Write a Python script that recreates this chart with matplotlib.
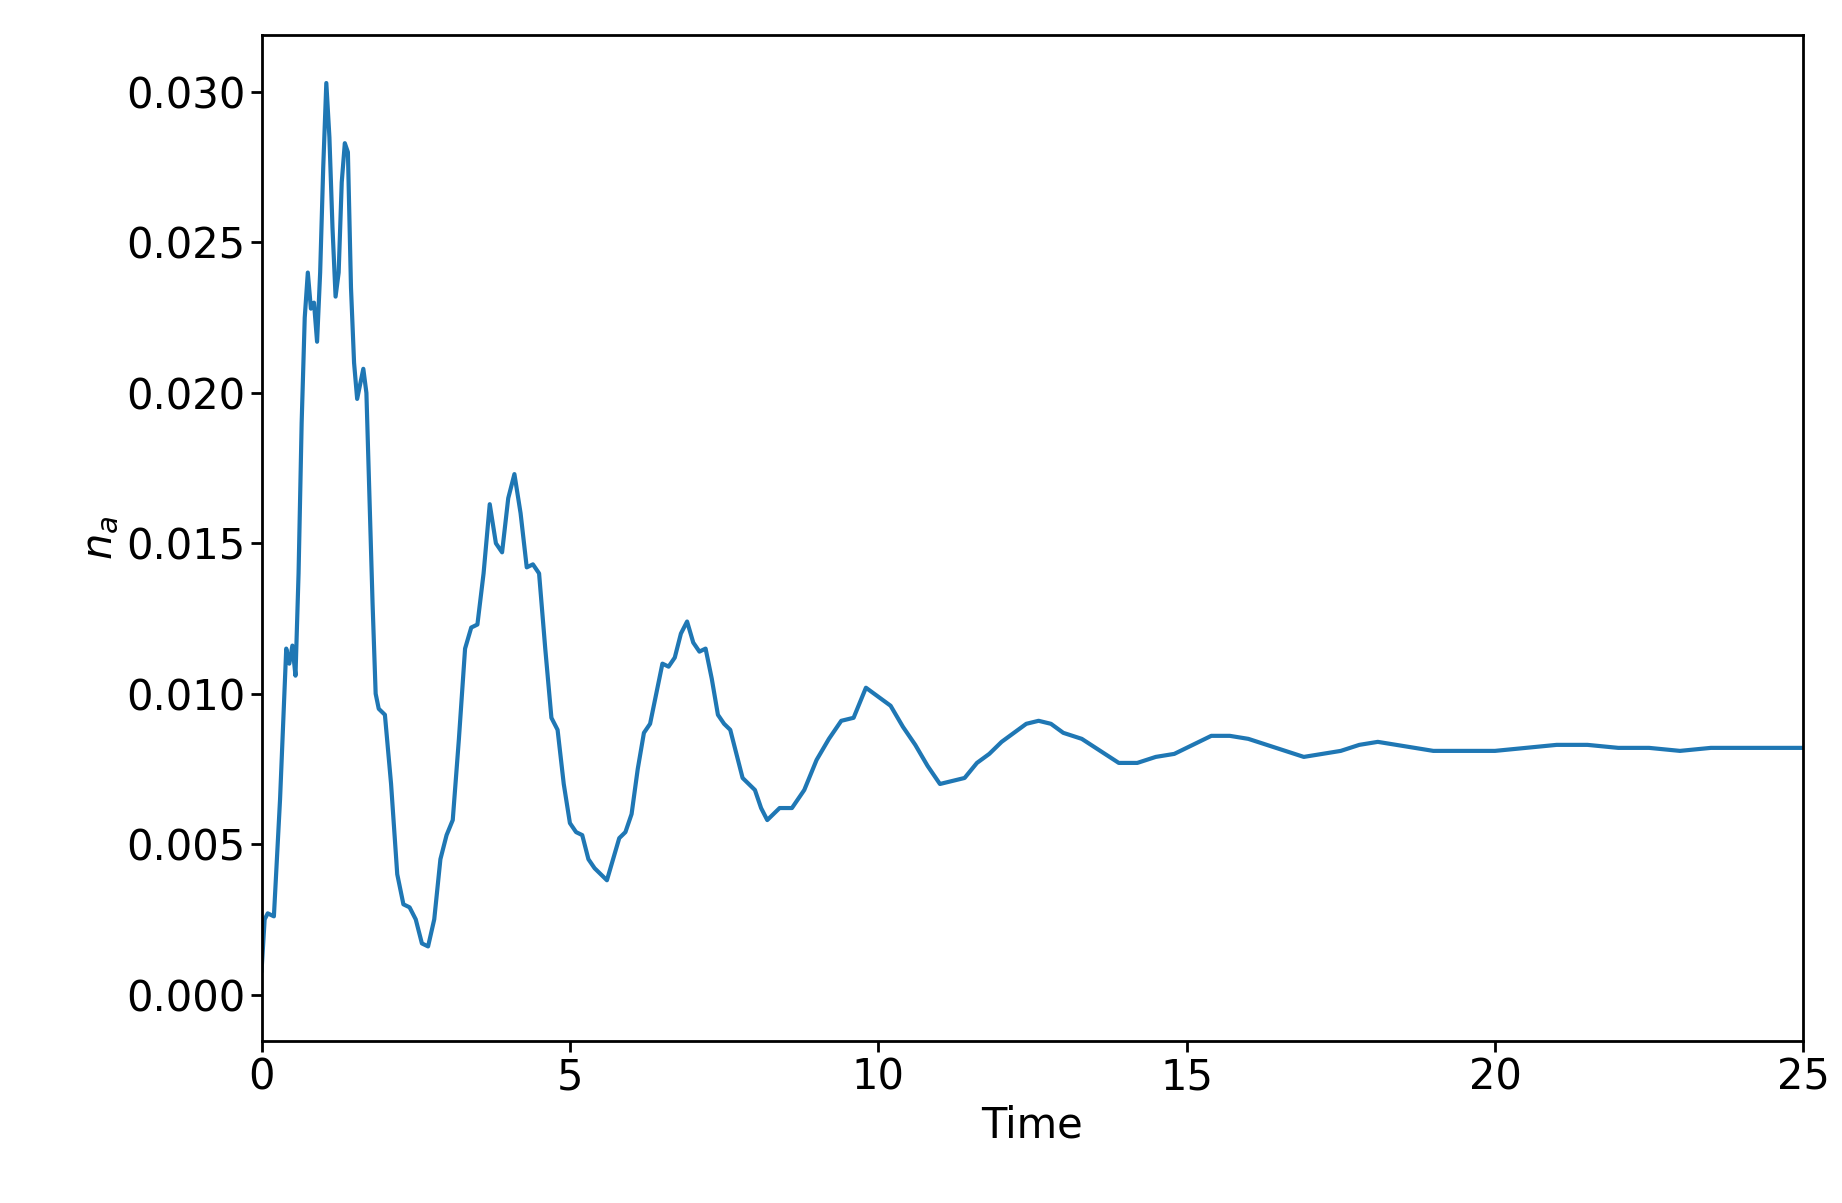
import matplotlib
matplotlib.use("Agg")
import matplotlib.pyplot as plt

t = [0, 0.05, 0.1, 0.2, 0.3, 0.4, 0.45, 0.5, 0.55, 0.6,
     0.65, 0.7, 0.75, 0.8, 0.85, 0.9, 0.95, 1.0, 1.05, 1.1,
     1.15, 1.2, 1.25, 1.3, 1.35, 1.4, 1.45, 1.5, 1.55, 1.6,
     1.65, 1.7, 1.75, 1.8, 1.85, 1.9, 2.0, 2.1, 2.2, 2.3,
     2.4, 2.5, 2.6, 2.7, 2.8, 2.9, 3.0, 3.1, 3.2, 3.3,
     3.4, 3.5, 3.6, 3.7, 3.8, 3.9, 4.0, 4.1, 4.2, 4.3,
     4.4, 4.5, 4.6, 4.7, 4.8, 4.9, 5.0, 5.1, 5.2, 5.3,
     5.4, 5.5, 5.6, 5.7, 5.8, 5.9, 6.0, 6.1, 6.2, 6.3,
     6.4, 6.5, 6.6, 6.7, 6.8, 6.9, 7.0, 7.1, 7.2, 7.3,
     7.4, 7.5, 7.6, 7.7, 7.8, 7.9, 8.0, 8.1, 8.2, 8.3,
     8.4, 8.6, 8.8, 9.0, 9.2, 9.4, 9.6, 9.8, 10.0, 10.2,
     10.4, 10.6, 10.8, 11.0, 11.2, 11.4, 11.6, 11.8, 12.0, 12.2,
     12.4, 12.6, 12.8, 13.0, 13.3, 13.6, 13.9, 14.2, 14.5, 14.8,
     15.1, 15.4, 15.7, 16.0, 16.3, 16.6, 16.9, 17.2, 17.5, 17.8,
     18.1, 18.4, 18.7, 19.0, 19.5, 20.0, 20.5, 21.0, 21.5, 22.0,
     22.5, 23.0, 23.5, 24.0, 24.5, 25.0]
n_a = [0.0008, 0.0025, 0.0027, 0.0026, 0.0065, 0.0115, 0.0110, 0.0116, 0.0106, 0.0140,
       0.0190, 0.0225, 0.0240, 0.0228, 0.0230, 0.0217, 0.0240, 0.0275, 0.0303, 0.0285,
       0.0255, 0.0232, 0.0240, 0.0270, 0.0283, 0.0280, 0.0235, 0.0210, 0.0198, 0.0203,
       0.0208, 0.0200, 0.0165, 0.0130, 0.0100, 0.0095, 0.0093, 0.0070, 0.0040, 0.0030,
       0.0029, 0.0025, 0.0017, 0.0016, 0.0025, 0.0045, 0.0053, 0.0058, 0.0085, 0.0115,
       0.0122, 0.0123, 0.0140, 0.0163, 0.0150, 0.0147, 0.0165, 0.0173, 0.0160, 0.0142,
       0.0143, 0.0140, 0.0115, 0.0092, 0.0088, 0.0070, 0.0057, 0.0054, 0.0053, 0.0045,
       0.0042, 0.0040, 0.0038, 0.0045, 0.0052, 0.0054, 0.0060, 0.0075, 0.0087, 0.0090,
       0.0100, 0.0110, 0.0109, 0.0112, 0.0120, 0.0124, 0.0117, 0.0114, 0.0115, 0.0105,
       0.0093, 0.0090, 0.0088, 0.0080, 0.0072, 0.0070, 0.0068, 0.0062, 0.0058, 0.0060,
       0.0062, 0.0062, 0.0068, 0.0078, 0.0085, 0.0091, 0.0092, 0.0102, 0.0099, 0.0096,
       0.0089, 0.0083, 0.0076, 0.0070, 0.0071, 0.0072, 0.0077, 0.0080, 0.0084, 0.0087,
       0.0090, 0.0091, 0.0090, 0.0087, 0.0085, 0.0081, 0.0077, 0.0077, 0.0079, 0.0080,
       0.0083, 0.0086, 0.0086, 0.0085, 0.0083, 0.0081, 0.0079, 0.0080, 0.0081, 0.0083,
       0.0084, 0.0083, 0.0082, 0.0081, 0.0081, 0.0081, 0.0082, 0.0083, 0.0083, 0.0082,
       0.0082, 0.0081, 0.0082, 0.0082, 0.0082, 0.0082]

fig = plt.figure(figsize=(18.42, 12.03), dpi=100)
ax = fig.add_axes([0.142, 0.135, 0.837, 0.836])
ax.plot(t, n_a, color="#1f77b4", lw=3)
ax.set_xlim(0, 25)
ax.set_ylim(-0.00153, 0.0319)
ax.set_xticks([0, 5, 10, 15, 20, 25])
ax.set_yticks([0.0, 0.005, 0.01, 0.015, 0.02, 0.025, 0.03])
ax.set_yticklabels(["0.000", "0.005", "0.010", "0.015", "0.020", "0.025", "0.030"])
ax.tick_params(labelsize=30, width=2, length=8)
for s in ax.spines.values():
    s.set_linewidth(2)
ax.set_xlabel("Time", fontsize=30)
ax.set_ylabel("$n_a$", fontsize=30)
fig.savefig("out.png", dpi=100)
